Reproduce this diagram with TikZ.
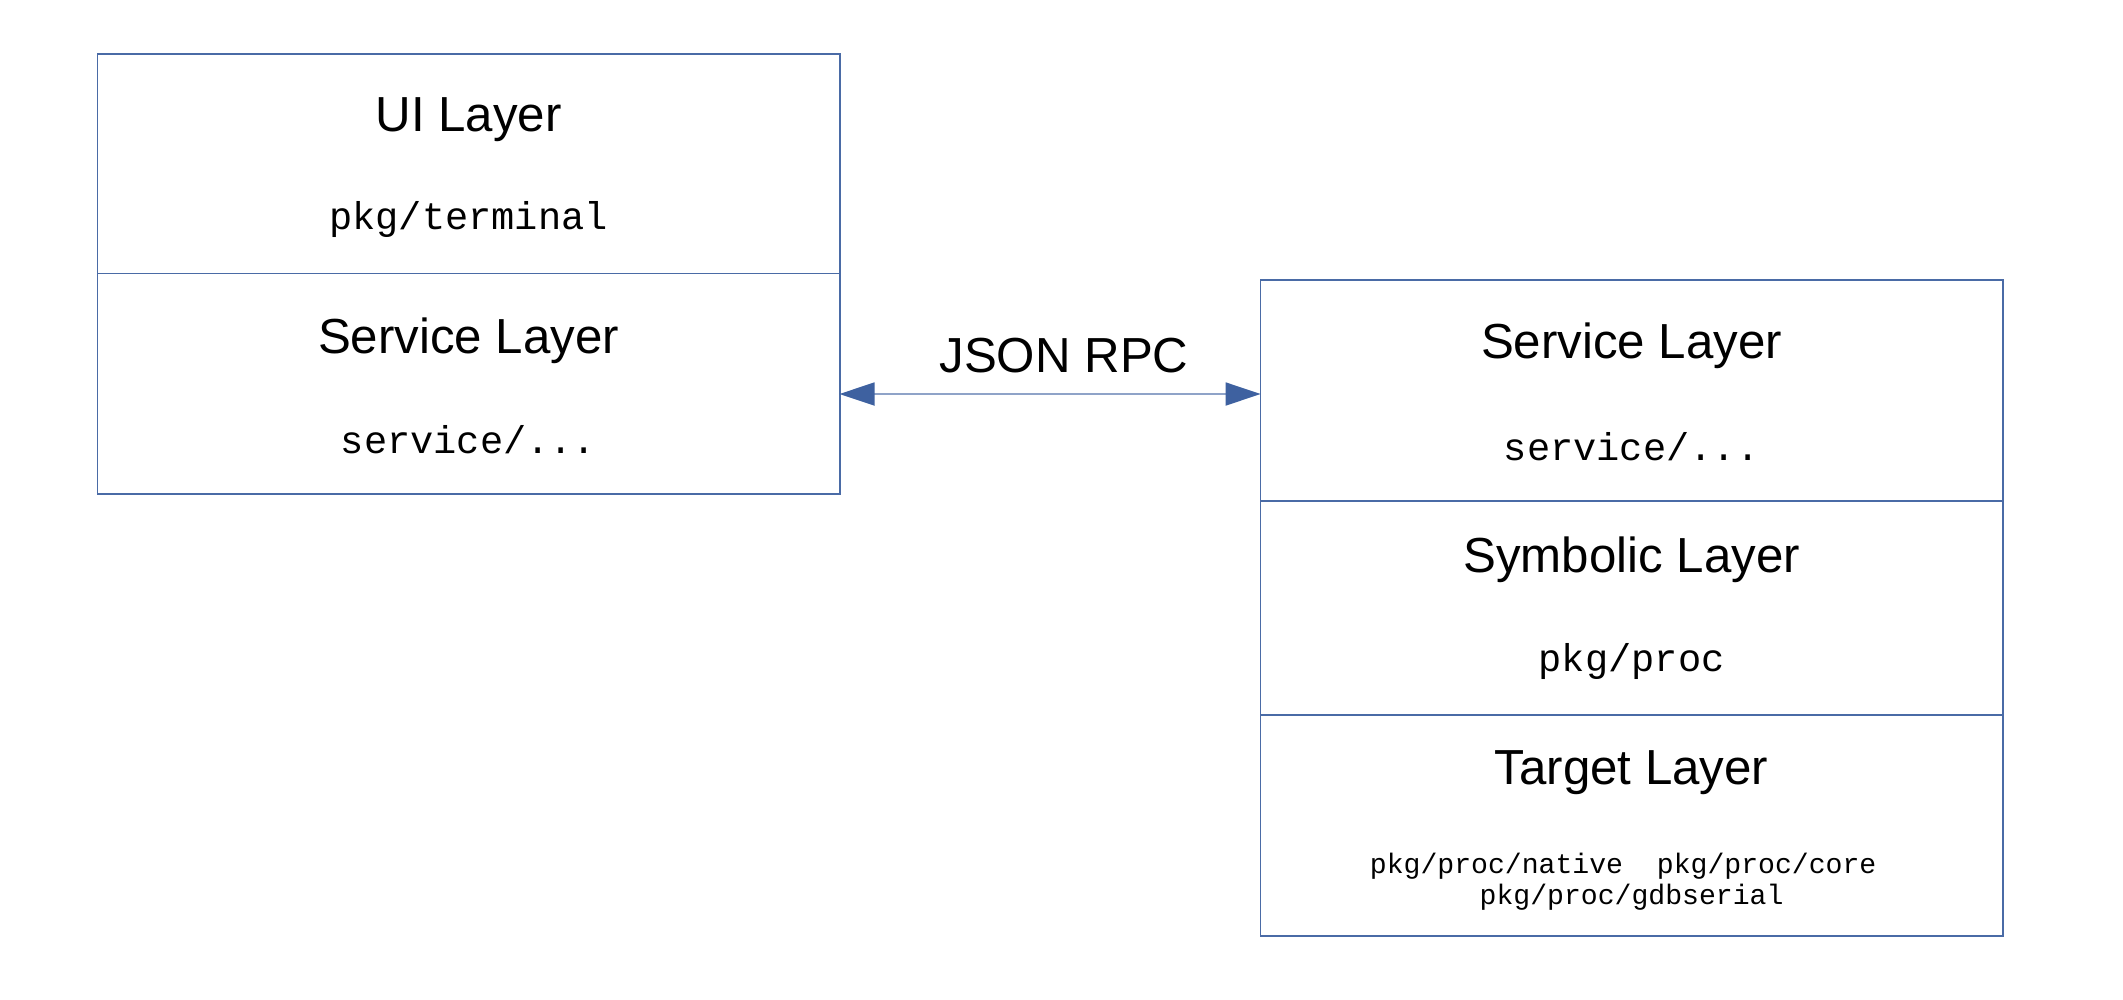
\documentclass[tikz,border=0pt]{standalone}
\usepackage{fontspec}
\setmainfont{Liberation Sans}
\setmonofont{Liberation Mono}
\usetikzlibrary{arrows.meta}
\definecolor{layerblue}{HTML}{4A6BA6}
\definecolor{tipblue}{HTML}{3E61A0}
\definecolor{linkblue}{HTML}{8FA3C8}

\begin{document}
\begin{tikzpicture}[x=0.01cm,y=-0.01cm]
% Styles
\tikzset{
  layer/.style={draw=layerblue,line width=0.45pt,minimum width=7.42cm,inner sep=0pt,outer sep=0pt,anchor=north west},
  layer title/.style={font=\fontsize{14}{16}\selectfont},
  layer pkg/.style={font=\fontsize{11}{13}\selectfont\ttfamily},
  layer pkgs/.style={font=\fontsize{8}{8.8}\selectfont\ttfamily,align=center},
  link/.style={draw=linkblue,line width=0.5pt,{Triangle[length=0.35cm,width=0.23cm,color=tipblue]}-{Triangle[length=0.35cm,width=0.23cm,color=tipblue]}}
}
\useasboundingbox (0,0) rectangle (2123,999);

% client side
\node[layer,minimum height=2.195cm] (ui) at (97.5,54) {};
\node[layer,minimum height=2.205cm] (svcL) at (ui.south west) {};

\node[layer title] (uiT) at (468.5,120) {UI Layer};
\node[layer pkg] (uiP) at (468.5,219) {pkg/terminal};
\node[layer title] (svcLT) at (468.5,341) {Service Layer};
\node[layer pkg] (svcLP) at (468.5,440) {service/...};

% server side
\node[layer,minimum height=2.21cm] (svcR) at (1260.6,280) {};
\node[layer,minimum height=2.14cm] (sym) at (svcR.south west) {};
\node[layer,minimum height=2.206cm] (target) at (sym.south west) {};

\node[layer title] (svcRT) at (1631.6,346) {Service Layer};
\node[layer pkg] (svcRP) at (1631.6,447) {service/...};
\node[layer title] (symT) at (1631.6,560) {Symbolic Layer};
\node[layer pkg] (symP) at (1631.6,661) {pkg/proc};
\node[layer title] (targetT) at (1631.6,773) {Target Layer};
\node[layer pkgs] (targetP) at (1631.6,882) {pkg/proc/native~~pkg/proc/core\hphantom{x}\\pkg/proc/gdbserial};

% the link between both sides
\coordinate (rpcL) at (839.5,394);
\coordinate (rpcR) at (1260.6,394);
\draw[link] (rpcL) -- (rpcR);
\node[layer title] (rpc) at (1064,356) {JSON RPC};

\end{tikzpicture}
\end{document}
